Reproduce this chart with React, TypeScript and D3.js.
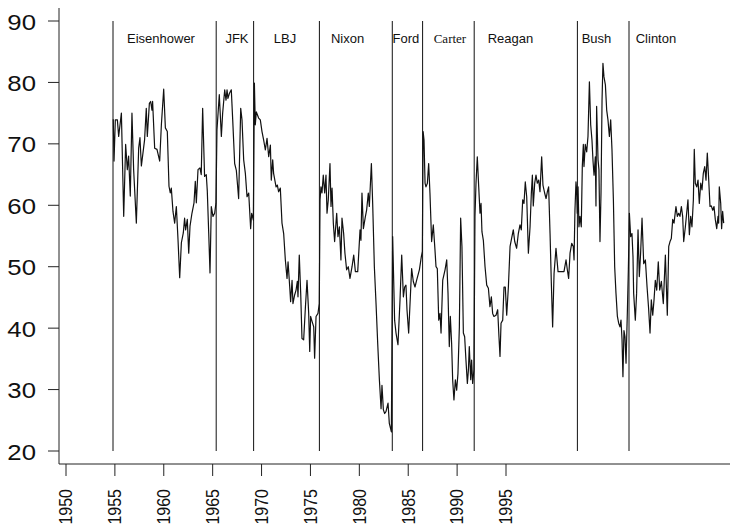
import React from "react";
import * as d3 from "d3";

// presidential terms
const presidents = ["Eisenhower", "JFK", "LBJ", "Nixon", "Ford", "Carter", "Reagan", "Bush", "Clinton"];
const termStart = [1953, 1961, 1963.9, 1969, 1974.65, 1977, 1981, 1989, 1993];
const labelCenter = [1956.72, 1962.61, 1966.33, 1971.18, 1975.71, 1979.12, 1983.81, 1990.48, 1995.09];

// axis tick labels (the printed year axis is offset from the data, as in the original)
const yearTicks = [1950, 1955, 1960, 1965, 1970, 1975, 1980, 1985, 1990, 1995];
const approvalTicks = [20, 30, 40, 50, 60, 70, 80, 90];

// approval rating readings (vertices)
const surveyYear = [
  1953.02, 1953.08, 1953.18, 1953.34, 1953.44, 1953.65, 1953.83, 1953.98, 1954.11, 1954.21,
  1954.34, 1954.47, 1954.6, 1954.81, 1954.99, 1955.09, 1955.2, 1955.45, 1955.58, 1955.66,
  1955.82, 1955.92, 1956.02, 1956.07, 1956.23, 1956.41, 1956.62, 1956.75, 1956.93, 1957.06,
  1957.21, 1957.34, 1957.44, 1957.52, 1957.65, 1957.78, 1957.91, 1958.04, 1958.17, 1958.3,
  1958.45, 1958.55, 1958.63, 1958.76, 1958.87, 1958.97, 1959.12, 1959.28, 1959.38, 1959.46,
  1959.59, 1959.74, 1959.84, 1959.95, 1960.1, 1960.23, 1960.31, 1960.42, 1960.52, 1960.62,
  1960.75, 1960.88,
  1960.98, 1961.06, 1961.24, 1961.4, 1961.5, 1961.66, 1961.76, 1961.84, 1961.91, 1962.02,
  1962.17, 1962.28, 1962.43, 1962.56, 1962.74, 1962.9, 1963.0, 1963.13, 1963.26, 1963.39,
  1963.52, 1963.67, 1963.75, 1963.88,
  1963.96, 1964.03, 1964.11, 1964.29, 1964.42, 1964.55, 1964.68, 1964.81, 1964.94, 1965.07,
  1965.2, 1965.27, 1965.38, 1965.45, 1965.64, 1965.74, 1965.84, 1965.97, 1966.1, 1966.23,
  1966.36, 1966.49, 1966.57, 1966.7, 1966.77, 1966.88, 1966.95, 1967.08, 1967.19, 1967.29,
  1967.34, 1967.44, 1967.55, 1967.65, 1967.78, 1967.91, 1968.04, 1968.17, 1968.25, 1968.32,
  1968.43, 1968.56, 1968.63, 1968.74, 1968.89, 1968.99,
  1969.05, 1969.12, 1969.2, 1969.3, 1969.41, 1969.51, 1969.59, 1969.69, 1969.82, 1969.9,
  1969.98, 1970.08, 1970.18, 1970.34, 1970.44, 1970.55, 1970.67, 1970.75, 1970.88, 1970.98,
  1971.11, 1971.24, 1971.37, 1971.53, 1971.66, 1971.79, 1971.97, 1972.15, 1972.22, 1972.3,
  1972.41, 1972.56, 1972.66, 1972.79, 1972.87, 1973.03, 1973.13, 1973.26, 1973.39, 1973.52,
  1973.65, 1973.78, 1973.85, 1973.96, 1974.06, 1974.16, 1974.32, 1974.42, 1974.58,
  1974.68, 1974.83, 1974.94, 1975.09, 1975.25, 1975.38, 1975.51, 1975.61, 1975.71, 1975.79,
  1975.92, 1976.05, 1976.15, 1976.28, 1976.41, 1976.54, 1976.75, 1976.9, 1976.98,
  1977.04, 1977.11, 1977.19, 1977.26, 1977.37, 1977.47, 1977.57, 1977.7, 1977.83, 1977.96,
  1978.04, 1978.14, 1978.25, 1978.35, 1978.43, 1978.56, 1978.74, 1978.87, 1978.97, 1979.07,
  1979.15, 1979.25, 1979.33, 1979.43, 1979.54, 1979.64, 1979.74, 1979.85, 1979.95, 1980.05,
  1980.16, 1980.26, 1980.36, 1980.47, 1980.55, 1980.62, 1980.73, 1980.8, 1980.88, 1980.98,
  1981.06, 1981.14, 1981.24, 1981.35, 1981.45, 1981.53, 1981.6, 1981.71, 1981.84, 1981.97,
  1982.1, 1982.22, 1982.33, 1982.43, 1982.53, 1982.69, 1982.82, 1982.92, 1983.0, 1983.08,
  1983.21, 1983.31, 1983.41, 1983.52, 1983.65, 1983.78, 1983.9, 1984.03, 1984.14, 1984.29,
  1984.42, 1984.55, 1984.65, 1984.76, 1984.86, 1984.96, 1985.07, 1985.2, 1985.33, 1985.43,
  1985.51, 1985.58, 1985.69, 1985.79, 1985.89, 1986.0, 1986.1, 1986.23, 1986.33, 1986.46,
  1986.57, 1986.67, 1986.77, 1986.88, 1986.98, 1987.08, 1987.19, 1987.34, 1987.5, 1987.7,
  1987.96, 1988.12, 1988.22, 1988.32, 1988.43, 1988.56, 1988.68, 1988.74, 1988.81, 1988.89,
  1988.94,
  1988.99, 1989.05, 1989.12, 1989.2, 1989.3, 1989.38, 1989.46, 1989.51, 1989.61, 1989.72,
  1989.82, 1989.93, 1990.03, 1990.13, 1990.21, 1990.29, 1990.39, 1990.44, 1990.49, 1990.6,
  1990.67, 1990.75, 1990.83, 1990.91, 1990.98, 1991.06, 1991.17, 1991.27, 1991.37, 1991.48,
  1991.58, 1991.68, 1991.79, 1991.89, 1991.99, 1992.1, 1992.2, 1992.3, 1992.38, 1992.46,
  1992.53, 1992.61, 1992.69, 1992.77, 1992.87, 1992.95,
  1993.03, 1993.13, 1993.23, 1993.31, 1993.36, 1993.49, 1993.59, 1993.7, 1993.8, 1993.9,
  1994.01, 1994.14, 1994.27, 1994.4, 1994.52, 1994.63, 1994.73, 1994.84, 1994.94, 1995.04,
  1995.15, 1995.27, 1995.38, 1995.51, 1995.66, 1995.82, 1995.97, 1996.08, 1996.18, 1996.28,
  1996.39, 1996.49, 1996.64, 1996.75, 1996.85, 1996.95, 1997.06, 1997.16, 1997.24, 1997.37,
  1997.47, 1997.57, 1997.68, 1997.78, 1997.88, 1997.99, 1998.06, 1998.14, 1998.25, 1998.35,
  1998.45, 1998.56, 1998.66, 1998.76, 1998.87, 1998.97, 1999.07, 1999.18, 1999.28, 1999.38,
  1999.49, 1999.59, 1999.69, 1999.8, 1999.9, 1999.95, 2000.0, 2000.11, 2000.18, 2000.26,
  2000.34,
];

const approval = [
  74.0, 67.2, 73.9, 73.9, 71.2, 75.0, 58.2, 69.9, 65.8, 68.0,
  61.5, 75.0, 65.8, 57.1, 69.3, 71.0, 66.4, 70.7, 75.8, 71.2,
  76.6, 76.9, 75.5, 76.9, 69.3, 69.1, 67.2, 73.1, 78.9, 72.6,
  72.0, 63.1, 62.0, 62.8, 59.0, 57.1, 59.8, 54.4, 48.2, 53.9,
  55.5, 57.9, 56.0, 57.7, 52.2, 56.6, 58.7, 60.4, 63.9, 60.4,
  65.8, 66.1, 65.0, 75.8, 64.7, 65.0, 62.3, 55.5, 49.0, 59.8,
  58.2, 58.7,
  60.3, 72.3, 78.0, 71.2, 75.0, 78.8, 77.1, 78.8, 77.4, 78.2,
  78.8, 73.9, 66.8, 65.7, 61.1, 75.8, 73.9, 67.4, 65.2, 61.4,
  62.0, 56.2, 58.7, 57.6,
  79.9, 73.1, 75.2, 74.2, 73.9, 72.0, 70.6, 69.0, 70.9, 67.9,
  69.8, 64.1, 67.4, 65.2, 63.0, 63.3, 62.2, 62.8, 57.1, 55.4,
  51.1, 48.1, 50.8, 46.7, 44.3, 47.8, 44.0, 45.4, 46.2, 47.6,
  45.1, 51.9, 45.7, 38.3, 38.1, 43.2, 47.8, 42.4, 36.2, 41.9,
  41.1, 40.2, 35.1, 41.9, 42.4, 44.0,
  60.9, 63.0, 62.0, 64.9, 62.0, 64.9, 58.7, 60.9, 66.8, 59.8,
  62.8, 57.1, 54.1, 58.7, 54.9, 56.5, 51.1, 57.9, 55.4, 52.2,
  49.5, 50.0, 48.1, 50.0, 51.9, 49.2, 49.2, 56.0, 54.3, 62.0,
  56.2, 58.1, 59.2, 62.0, 59.8, 66.8, 60.3, 50.0, 44.0, 37.5,
  31.6, 26.9, 30.7, 26.7, 26.1, 26.4, 27.8, 24.5, 23.1,
  54.9, 41.3, 39.2, 37.3, 44.6, 51.9, 45.1, 46.7, 47.0, 43.0,
  39.2, 45.1, 49.7, 47.6, 46.7, 47.8, 49.5, 51.6, 52.5,
  72.0, 70.6, 63.6, 63.0, 63.6, 66.8, 62.0, 54.1, 56.8, 52.7,
  50.0, 49.7, 41.3, 42.4, 39.2, 47.8, 49.5, 51.1, 45.7, 37.0,
  41.9, 37.5, 31.6, 28.3, 31.6, 29.9, 32.6, 40.2, 57.9, 53.3,
  39.2, 38.6, 34.8, 31.0, 33.2, 37.0, 31.6, 34.8, 31.0, 33.2,
  58.2, 63.6, 67.9, 63.0, 58.7, 60.3, 55.7, 54.3, 50.0, 47.0,
  46.5, 43.5, 45.1, 42.4, 41.9, 42.1, 43.0, 38.6, 35.4, 40.8,
  41.3, 46.7, 46.7, 42.1, 46.7, 53.3, 54.6, 56.0, 54.1, 53.0,
  55.4, 56.8, 56.0, 60.9, 60.3, 63.8, 61.4, 52.2, 56.5, 62.0,
  64.9, 59.9, 63.6, 64.9, 63.6, 64.1, 62.2, 67.9, 63.3, 62.0,
  61.1, 62.2, 63.0, 55.4, 47.3, 40.2, 48.9, 53.0, 49.2, 49.2,
  49.2, 51.1, 49.5, 48.1, 52.2, 53.8, 53.3, 51.1, 59.2, 63.8,
  62.5,
  58.7, 63.0, 56.5, 58.2, 56.5, 66.3, 69.9, 66.3, 69.9, 68.7,
  71.2, 80.1, 73.1, 70.6, 67.2, 64.9, 67.9, 59.9, 76.1, 67.4,
  65.8, 54.1, 62.0, 77.1, 83.1, 80.9, 79.6, 75.5, 73.9, 71.2,
  73.9, 69.1, 60.9, 50.0, 45.7, 41.9, 40.8, 40.2, 41.3, 38.1,
  32.1, 39.6, 38.6, 34.3, 42.4, 49.5,
  58.7, 54.9, 55.4, 51.6, 45.7, 41.3, 45.7, 56.0, 48.4, 52.2,
  57.9, 50.5, 51.1, 46.7, 43.2, 39.2, 44.6, 42.1, 44.6, 47.8,
  46.2, 50.8, 46.2, 47.6, 44.0, 51.9, 42.1, 53.3, 54.1, 54.6,
  57.7, 57.1, 59.8, 58.2, 58.7, 58.2, 59.8, 58.2, 54.1, 56.5,
  58.7, 60.9, 55.2, 58.2, 56.5, 60.9, 69.1, 63.6, 63.0, 64.1,
  60.3, 63.6, 62.5, 65.2, 66.3, 64.1, 68.5, 64.1, 59.8, 59.9,
  59.2, 59.8, 57.7, 56.2, 58.2, 57.1, 63.0, 60.3, 56.2, 59.0,
  57.1,
];

const W = 730;
const H = 526;
const sans = "'Liberation Sans', Arial, Helvetica, sans-serif";
const serif = "'Liberation Serif', 'Times New Roman', serif";

export default function App() {
  const xData = d3.scaleLinear().domain([1953, 1993]).range([113, 629]);
  const xAxis = d3.scaleLinear().domain([1950, 1995]).range([66, 506]);
  const y = d3.scaleLinear().domain([20, 90]).range([451, 21]);

  const line = d3
    .line<number>()
    .x((d, i) => xData(surveyYear[i]))
    .y((d) => y(d));

  const axisY = 464;
  const axisX = 59;

  return (
    <svg
      width={W}
      height={H}
      style={{ position: "absolute", left: 0, top: 0, background: "#fff" }}
    >
      {/* axes */}
      <line x1={axisX} x2={axisX} y1={8} y2={axisY} stroke="#222" strokeWidth={1} />
      <line x1={axisX} x2={W} y1={axisY} y2={axisY} stroke="#222" strokeWidth={1} />

      {approvalTicks.map((t) => (
        <g key={t}>
          <line x1={48} x2={axisX} y1={y(t)} y2={y(t)} stroke="#222" strokeWidth={1} />
          <text
            transform={`translate(36,${y(t) + 8.5}) scale(1.12,1)`}
            textAnchor="end"
            fontFamily={sans}
            fontSize={23}
            fill="#111"
          >
            {t}
          </text>
        </g>
      ))}

      {yearTicks.map((t) => (
        <g key={t}>
          <line x1={xAxis(t)} x2={xAxis(t)} y1={axisY} y2={476} stroke="#222" strokeWidth={1} />
          <text
            transform={`translate(${xAxis(t)},489) scale(1.1,1) rotate(-90)`}
            textAnchor="end"
            dy="0.36em"
            fontFamily={sans}
            fontSize={16}
            fill="#111"
          >
            {t}
          </text>
        </g>
      ))}

      {/* term boundaries */}
      {presidents.map((p, i) => (
        <g key={p}>
          <line
            x1={xData(termStart[i])}
            x2={xData(termStart[i])}
            y1={y(90)}
            y2={y(20)}
            stroke="#111"
            strokeWidth={1}
          />
          <text
            x={xData(labelCenter[i])}
            y={43}
            textAnchor="middle"
            fontFamily={p === "Carter" ? serif : sans}
            fontSize={13}
            fill="#111"
          >
            {p}
          </text>
        </g>
      ))}

      <path d={line(approval) ?? ""} fill="none" stroke="#111" strokeWidth={1.2} strokeLinejoin="round" />
    </svg>
  );
}
